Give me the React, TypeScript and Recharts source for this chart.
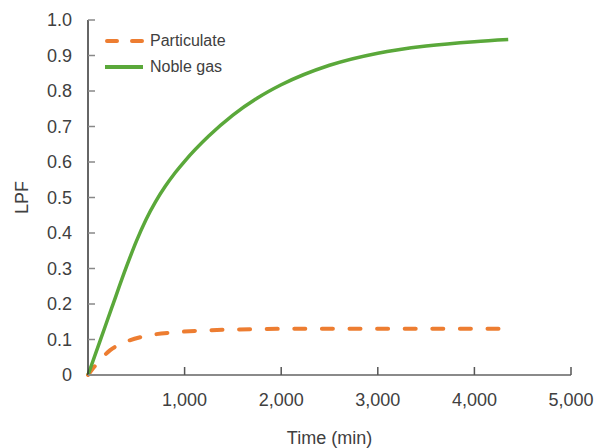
import { LineChart, Line, XAxis, YAxis, Legend } from 'recharts';

// Noble gas curve
const nobleTime = [0, 125, 250, 400, 500, 600, 700, 800, 900, 1000, 1250, 1500, 1750, 2000, 2500, 3000, 3500, 4000, 4350];
const nobleLpf = [0, 0.096, 0.1925, 0.3065, 0.3765, 0.4375, 0.4885, 0.5315, 0.569, 0.602, 0.673, 0.732, 0.7795, 0.8175, 0.8725, 0.9065, 0.9265, 0.939, 0.945];

// Particulate curve
const partTime = [0, 140, 230, 370, 600, 880, 1160, 1500, 2050, 3000, 4350];
const partLpf = [0, 0.047, 0.07, 0.091, 0.11, 0.12, 0.125, 0.128, 0.13, 0.13, 0.13];

const xTicks = [1000, 2000, 3000, 4000, 5000];
const yTicks = [0, 0.1, 0.2, 0.3, 0.4, 0.5, 0.6, 0.7, 0.8, 0.9, 1.0];

const ORANGE = '#ED7D31';
const GREEN = '#5AA83A';
const FONT = '"Liberation Sans", Arial, sans-serif';
const TEXT = '#404040';

const nobleData = nobleTime.map((t, i) => ({ t, lpf: nobleLpf[i] }));
const partData = partTime.map((t, i) => ({ t, lpf: partLpf[i] }));

const legendItems = [
  { name: 'Particulate', color: ORANGE, dashed: true },
  { name: 'Noble gas', color: GREEN, dashed: false },
];

function LegendBox() {
  return (
    <div style={{ fontFamily: FONT, fontSize: 16, color: TEXT }}>
      {legendItems.map((it) => (
        <div key={it.name} style={{ display: 'flex', alignItems: 'center', height: 26 }}>
          <svg width={44} height={10} style={{ marginRight: 3 }}>
            <line
              x1={it.dashed ? 4 : 2}
              x2={40}
              y1={5}
              y2={5}
              stroke={it.color}
              strokeWidth={4}
              strokeDasharray={it.dashed ? '10 15' : undefined}
              strokeLinecap={it.dashed ? 'round' : 'butt'}
            />
          </svg>
          <span>{it.name}</span>
        </div>
      ))}
    </div>
  );
}

export default function App() {
  return (
    <div>
      <style>{`body { margin: 0; }`}</style>
      <LineChart width={598} height={448} margin={{ top: 20, right: 27, left: 0, bottom: 0 }}>
        <XAxis
          type="number"
          dataKey="t"
          domain={[0, 5000]}
          ticks={xTicks}
          tickFormatter={(v: number) => v.toLocaleString('en-US')}
          height={73}
          tickSize={-8}
          tickMargin={26}
          stroke="#8a8a8a"
          strokeWidth={2}
          tickLine={{ stroke: '#555', strokeWidth: 1.5 }}
          tick={{ fill: TEXT, fontSize: 18, fontFamily: FONT }}
          label={{ value: 'Time (min)', position: 'insideBottom', offset: 4, fill: TEXT, fontSize: 18, fontFamily: FONT }}
          allowDuplicatedCategory={false}
        />
        <YAxis
          type="number"
          domain={[0, 1]}
          ticks={yTicks}
          tickFormatter={(v: number) => (v === 0 ? '0' : v.toFixed(1))}
          width={88}
          tickSize={-7}
          tickMargin={23}
          stroke="#333"
          strokeWidth={1.5}
          tickLine={{ stroke: '#888', strokeWidth: 1.5 }}
          tick={{ fill: TEXT, fontSize: 18, fontFamily: FONT }}
          label={({ viewBox }: any) => {
            const cx = viewBox.x + 22;
            const cy = viewBox.y + viewBox.height / 2;
            return (
              <text
                x={cx}
                y={cy}
                transform={`rotate(-90, ${cx}, ${cy})`}
                textAnchor="middle"
                dominantBaseline="central"
                fill={TEXT}
                fontSize={18}
                fontFamily={FONT}
              >
                LPF
              </text>
            );
          }}
        />
        <Legend
          verticalAlign="middle"
          align="center"
          layout="horizontal"
          wrapperStyle={{ top: 28, left: 103, width: 'auto' }}
          content={() => <LegendBox />}
        />
        <Line
          data={partData}
          dataKey="lpf"
          name="Particulate"
          type="monotone"
          stroke={ORANGE}
          strokeWidth={4}
          strokeDasharray="11 16.6"
          strokeLinecap="round"
          dot={false}
          isAnimationActive={false}
        />
        <Line
          data={nobleData}
          dataKey="lpf"
          name="Noble gas"
          type="monotone"
          stroke={GREEN}
          strokeWidth={3.5}
          dot={false}
          isAnimationActive={false}
        />
      </LineChart>
    </div>
  );
}
